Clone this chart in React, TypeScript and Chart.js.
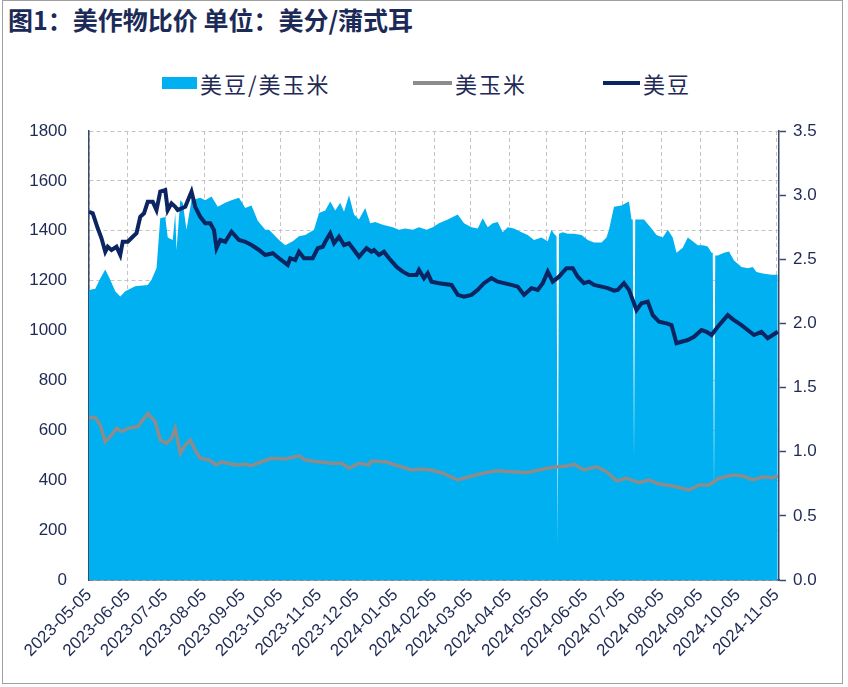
import React, { useEffect, useRef } from "react";
import { Chart, registerables } from "chart.js";

Chart.register(...registerables);

const TITLE = "图1：美作物比价 单位：美分/蒲式耳";
const LEGEND_LABELS = ["美豆/美玉米", "美玉米", "美豆"];
const START_DATE = "2023-05-05";

const TICK_LABELS = [
  "2023-05-05", "2023-06-05", "2023-07-05", "2023-08-05", "2023-09-05", "2023-10-05",
  "2023-11-05", "2023-12-05", "2024-01-05", "2024-02-05", "2024-03-05", "2024-04-05",
  "2024-05-05", "2024-06-05", "2024-07-05", "2024-08-05", "2024-09-05", "2024-10-05",
  "2024-11-05",
];

// days since 2023-05-05 and 美豆/美玉米 ratio (right axis)
const RATIO_DAYS = [
  0, 5, 9, 13, 17, 21, 25, 29, 37, 47, 50, 54, 57, 61, 63, 67, 69, 70, 73, 75, 78, 82, 89, 93, 98,
  103, 109, 114, 120, 125, 130, 135, 141, 144, 152, 157, 163, 168, 173, 180, 184, 189, 193, 197,
  201, 204, 208, 212, 216, 221, 225, 229, 235, 243, 248, 253, 259, 264, 270, 275, 280, 287, 295,
  300, 306, 311, 315, 319, 323, 327, 331, 335, 340, 346, 351, 356, 362, 367, 370, 372, 374, 375,
  376, 379, 383, 388, 394, 399, 404, 410, 414, 416, 420, 426, 430, 432, 434, 435, 436, 437, 439,
  444, 450, 454, 459, 463, 467, 470, 475, 479, 483, 487, 491, 495, 498, 499, 500, 501, 503, 508,
  512, 516, 522, 527, 531, 534, 539, 546, 551,
];
const RATIO_VALUES = [
  2.26, 2.27, 2.35, 2.42, 2.34, 2.25, 2.21, 2.25, 2.29, 2.30, 2.34, 2.43, 2.82, 2.83, 2.67, 2.65,
  2.86, 2.57, 2.96, 2.94, 2.73, 2.96, 2.98, 2.96, 2.99, 2.91, 2.94, 2.96, 2.98, 2.90, 2.92, 2.80,
  2.73, 2.73, 2.65, 2.61, 2.64, 2.68, 2.69, 2.73, 2.86, 2.88, 2.95, 2.88, 2.94, 2.87, 3.00, 2.85,
  2.81, 2.90, 2.78, 2.79, 2.77, 2.75, 2.73, 2.74, 2.73, 2.75, 2.73, 2.75, 2.78, 2.81, 2.85, 2.78,
  2.75, 2.74, 2.82, 2.75, 2.78, 2.79, 2.71, 2.75, 2.74, 2.71, 2.69, 2.65, 2.67, 2.64, 2.73, 2.70,
  2.68, 0.27, 2.70, 2.71, 2.70, 2.70, 2.69, 2.65, 2.63, 2.63, 2.67, 2.73, 2.91, 2.92, 2.94, 2.95,
  2.81, 2.81, 0.94, 2.81, 2.81, 2.81, 2.74, 2.69, 2.67, 2.73, 2.67, 2.55, 2.59, 2.67, 2.64, 2.61,
  2.61, 2.60, 2.55, 2.55, 0.70, 2.53, 2.53, 2.55, 2.56, 2.49, 2.44, 2.43, 2.44, 2.40, 2.39, 2.38,
  2.38,
];

// 美豆 (left axis)
const SOY_DAYS = [
  0, 3, 7, 10, 13, 15, 18, 22, 25, 27, 31, 35, 38, 41, 44, 47, 51, 54, 57, 61, 63, 66, 69, 71, 77,
  82, 85, 89, 93, 97, 100, 102, 105, 109, 114, 120, 125, 130, 136, 141, 147, 152, 159, 161, 165,
  168, 172, 179, 183, 187, 189, 193, 196, 200, 204, 208, 212, 216, 222, 226, 228, 232, 236, 240,
  246, 251, 256, 262, 264, 268, 271, 274, 280, 290, 295, 300, 306, 311, 316, 322, 327, 332, 338,
  343, 348, 354, 359, 363, 367, 371, 376, 382, 387, 391, 396, 400, 404, 410, 415, 420, 423, 428,
  432, 438, 442, 447, 451, 456, 462, 466, 470, 474, 479, 484, 490, 494, 498, 503, 511, 516, 522,
  527, 532, 538, 543, 547, 551,
];
const SOY_VALUES = [
  1476, 1470, 1410, 1370, 1316, 1336, 1323, 1336, 1303, 1356, 1356, 1376, 1390, 1456, 1470, 1516,
  1516, 1483, 1557, 1563, 1483, 1510, 1496, 1483, 1496, 1557, 1496, 1456, 1430, 1430, 1403, 1330,
  1363, 1356, 1396, 1363, 1356, 1343, 1323, 1303, 1310, 1290, 1263, 1290, 1283, 1316, 1290, 1290,
  1330, 1336, 1356, 1390, 1350, 1376, 1343, 1350, 1323, 1296, 1330, 1316, 1323, 1303, 1316, 1290,
  1256, 1236, 1223, 1223, 1243, 1210, 1230, 1196, 1190, 1183, 1143, 1136, 1143, 1163, 1190, 1210,
  1196, 1190, 1183, 1176, 1143, 1170, 1163, 1190, 1236, 1196, 1216, 1250, 1250, 1216, 1190, 1196,
  1183, 1176, 1170, 1160, 1163, 1190, 1163, 1082, 1109, 1116, 1062, 1036, 1029, 1022, 949, 955,
  962, 975, 1002, 995, 982, 1015, 1062, 1042, 1022, 1002, 982, 995, 969, 982, 995,
];

// 美玉米 (left axis)
const CORN_DAYS = [
  0, 5, 9, 13, 18, 22, 26, 31, 39, 42, 47, 53, 57, 62, 66, 69, 73, 77, 81, 85, 89, 96, 102, 106,
  111, 118, 125, 130, 138, 146, 157, 168, 173, 183, 194, 202, 208, 216, 224, 226, 237, 247, 258,
  266, 274, 283, 295, 304, 315, 326, 339, 350, 360, 371, 382, 388, 396, 406, 414, 422, 430, 440,
  448, 456, 467, 480, 488, 496, 504, 515, 523, 531, 539, 547, 551,
];
const CORN_VALUES = [
  651, 651, 621, 554, 581, 608, 595, 608, 615, 635, 668, 635, 561, 548, 568, 608, 508, 541, 561,
  521, 488, 481, 461, 474, 468, 461, 464, 458, 474, 488, 485, 498, 481, 474, 468, 468, 448, 468,
  461, 477, 474, 458, 441, 445, 441, 428, 401, 414, 428, 438, 434, 430, 441, 452, 457, 464, 441,
  454, 434, 398, 408, 390, 401, 385, 377, 361, 381, 381, 408, 421, 417, 401, 414, 410, 417,
];

const LEFT_MAX = 1800;
const LEFT_STEP = 200;
const RIGHT_MAX = 3.5;
const RIGHT_STEP = 0.5;

const NAVY_TEXT = "#1f2a55";
const AREA_COLOR = "#00b0f0";
const CORN_COLOR = "#8c8c8c";
const SOY_COLOR = "#0c2461";
const AXIS_COLOR = "#3b4a6b";
const GRID_COLOR = "#c4c4c4";

const DAY_MS = 86400000;
const dayOf = (s: string) => Math.round((Date.parse(s) - Date.parse(START_DATE)) / DAY_MS);
const pts = (xs: number[], ys: number[]) => xs.map((x, i) => ({ x, y: ys[i] }));

export default function App() {
  const ref = useRef<HTMLCanvasElement | null>(null);

  useEffect(() => {
    if (!ref.current) return;
    const tickDays = TICK_LABELS.map(dayOf);
    const tickFont = { family: "'Liberation Sans', Arial, sans-serif", size: 17 };
    const chart = new Chart(ref.current, {
      type: "line",
      data: {
        datasets: [
          {
            label: LEGEND_LABELS[0],
            data: pts(RATIO_DAYS, RATIO_VALUES),
            yAxisID: "y1",
            fill: "origin",
            backgroundColor: AREA_COLOR,
            borderColor: "rgba(0,0,0,0)",
            borderWidth: 0,
            pointRadius: 0,
            tension: 0,
            order: 3,
          },
          {
            label: LEGEND_LABELS[1],
            data: pts(CORN_DAYS, CORN_VALUES),
            yAxisID: "y",
            fill: false,
            borderColor: CORN_COLOR,
            borderWidth: 3.5,
            pointRadius: 0,
            tension: 0,
            order: 2,
          },
          {
            label: LEGEND_LABELS[2],
            data: pts(SOY_DAYS, SOY_VALUES),
            yAxisID: "y",
            fill: false,
            borderColor: SOY_COLOR,
            borderWidth: 4,
            pointRadius: 0,
            tension: 0,
            order: 1,
          },
        ],
      },
      options: {
        responsive: false,
        animation: false,
        devicePixelRatio: 1,
        layout: { padding: { top: 131, left: 0, right: 0, bottom: 0 } },
        plugins: { legend: { display: false }, tooltip: { enabled: false } },
        scales: {
          x: {
            type: "linear",
            min: 0,
            max: 552,
            afterBuildTicks: (scale: any) => {
              scale.ticks = tickDays.map((v) => ({ value: v }));
            },
            afterFit: (scale: any) => {
              scale.height = 107;
            },
            ticks: {
              autoSkip: false,
              minRotation: 45,
              maxRotation: 45,
              padding: 5,
              color: NAVY_TEXT,
              font: { ...tickFont, size: 17 },
              callback: (v: any) => {
                const i = tickDays.indexOf(Number(v));
                return i >= 0 ? TICK_LABELS[i] : "";
              },
            },
            grid: { color: GRID_COLOR, lineWidth: 1, drawTicks: false },
            border: { display: true, color: AXIS_COLOR, width: 1.5, dash: [4, 3] },
          },
          y: {
            position: "left",
            min: 0,
            max: LEFT_MAX,
            afterFit: (scale: any) => {
              scale.width = 89;
            },
            ticks: {
              stepSize: LEFT_STEP,
              padding: 22,
              color: NAVY_TEXT,
              font: tickFont,
              callback: (v: any) => String(v),
            },
            grid: { color: GRID_COLOR, lineWidth: 1, drawTicks: false },
            border: { display: true, color: AXIS_COLOR, width: 1.5, dash: [4, 3] },
          },
          y1: {
            position: "right",
            min: 0,
            max: RIGHT_MAX,
            afterFit: (scale: any) => {
              scale.width = 69;
            },
            ticks: {
              stepSize: RIGHT_STEP,
              padding: 7,
              color: NAVY_TEXT,
              font: tickFont,
              callback: (v: any) => Number(v).toFixed(1),
            },
            grid: {
              drawOnChartArea: false,
              drawTicks: true,
              tickLength: 7,
              tickColor: AXIS_COLOR,
              tickWidth: 1.5,
            },
            border: { display: true, color: AXIS_COLOR, width: 1.5 },
          },
        },
      },
    } as any);
    return () => chart.destroy();
  }, []);

  const legendText: React.CSSProperties = {
    position: "absolute",
    top: 70,
    fontFamily: "'Noto Sans CJK SC', sans-serif",
    fontSize: 22,
    lineHeight: "26px",
    letterSpacing: 2,
    color: NAVY_TEXT,
    whiteSpace: "nowrap",
  };

  return (
    <div style={{ position: "absolute", left: 0, top: 0, width: 848, height: 687, background: "#fff" }}>
      <div
        style={{
          position: "absolute",
          left: 2,
          top: 0,
          width: 841,
          height: 684,
          border: "1px solid #a0a0a0",
          boxSizing: "border-box",
        }}
      />
      <div
        style={{
          position: "absolute",
          left: 8,
          top: 5,
          fontFamily: "'Noto Sans CJK SC', sans-serif",
          fontWeight: 700,
          fontSize: 25,
          lineHeight: "29px",
          color: "#1b2a57",
          whiteSpace: "nowrap",
        }}
      >
        {TITLE}
      </div>
      <div style={{ position: "absolute", left: 162, top: 77, width: 35, height: 12, background: AREA_COLOR }} />
      <span style={{ ...legendText, left: 200 }}>{LEGEND_LABELS[0]}</span>
      <div style={{ position: "absolute", left: 413, top: 81, width: 39, height: 4, background: CORN_COLOR }} />
      <span style={{ ...legendText, left: 455 }}>{LEGEND_LABELS[1]}</span>
      <div style={{ position: "absolute", left: 603, top: 81, width: 37, height: 4, background: SOY_COLOR }} />
      <span style={{ ...legendText, left: 643 }}>{LEGEND_LABELS[2]}</span>
      <canvas ref={ref} width={848} height={687} style={{ position: "absolute", left: 0, top: 0, width: 848, height: 687 }} />
    </div>
  );
}
